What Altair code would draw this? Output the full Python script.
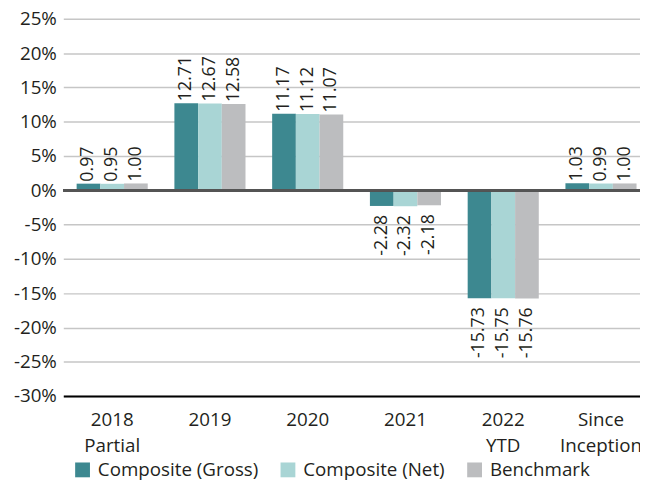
import altair as alt
import pandas as pd

categories = ["2018 Partial", "2019", "2020", "2021", "2022 YTD", "Since Inception"]
series = ["Composite (Gross)", "Composite (Net)", "Benchmark"]
gross = [0.97, 12.71, 11.17, -2.28, -15.73, 1.03]
net = [0.95, 12.67, 11.12, -2.32, -15.75, 0.99]
bench = [1.00, 12.58, 11.07, -2.18, -15.76, 1.00]
y_ticks = [-30, -25, -20, -15, -10, -5, 0, 5, 10, 15, 20, 25]
colors = ["#3d8890", "#a9d5d5", "#bcbdbf"]

rows = []
for i, c in enumerate(categories):
    for s, vals in zip(series, [gross, net, bench]):
        rows.append({"category": c, "series": s, "value": vals[i]})
df = pd.DataFrame(rows)

FONT = "Open Sans"
TXT = "#231f20"

x = alt.X(
    "category:N",
    sort=categories,
    scale=alt.Scale(range=[0, 594], paddingInner=0.2727, paddingOuter=0.1364),
    axis=alt.Axis(
        title=None, labelAngle=0, labelExpr="split(datum.label, ' ')",
        ticks=False, domain=True, domainColor="#000000", domainWidth=2,
        labelFontSize=19, labelFont=FONT, labelColor=TXT, labelPadding=15,
        labelLineHeight=26, grid=False, labelOverlap=False,
    ),
)
y_scale = alt.Scale(domain=[-30, 25], nice=False)
y_axis = alt.Axis(
    title=None, values=y_ticks, tickCount=len(y_ticks) + 2,
    labelExpr="datum.value + '%'",
    grid=True, gridColor="#c6c6c6", gridWidth=1.5, domain=False,
    ticks=False, labelPadding=7, labelFontSize=19, labelFont=FONT,
    labelColor=TXT, labelOverlap=False,
)
y = alt.Y("value:Q", scale=y_scale, axis=y_axis)
xoff = alt.XOffset("series:N", sort=series, scale=alt.Scale(paddingInner=0, paddingOuter=0))

base = alt.Chart(df)

bars = base.mark_bar().encode(
    x=x, y=y, xOffset=xoff,
    color=alt.Color(
        "series:N", sort=series,
        scale=alt.Scale(domain=series, range=colors),
        legend=alt.Legend(
            orient="none", legendX=10, legendY=447, direction="horizontal",
            title=None, symbolType="square", symbolSize=225,
            symbolStrokeWidth=0, symbolOpacity=1, labelFontSize=19,
            labelFont=FONT, labelColor=TXT, columnPadding=20, labelOffset=6,
            labelLimit=400,
        ),
    ),
)

zero = base.mark_rule(color="#555555", strokeWidth=2).encode(
    y=alt.Y(datum=0, type="quantitative", scale=y_scale, axis=y_axis)
)

labelled = base.transform_calculate(
    label="replace(format(datum.value, '.2f'), '\u2212', '-')"
)

pos = labelled.transform_filter("datum.value >= 0").mark_text(
    angle=270, align="left", baseline="middle", dx=2, fontSize=18,
    font=FONT, color=TXT,
).encode(x=x, y=y, xOffset=xoff, text="label:N")

neg = labelled.transform_filter("datum.value < 0").mark_text(
    angle=270, align="right", baseline="middle", dx=-9, fontSize=18,
    font=FONT, color=TXT,
).encode(x=x, y=y, xOffset=xoff, text="label:N")

chart = alt.layer(bars, zero, pos, neg).properties(
    width=584, height=382,
    autosize=alt.AutoSizeParams(type="none"),
    padding={"left": 56, "top": 8, "right": 0, "bottom": 82},
).configure_view(stroke=None)

chart.save("out.html", embed_options={"renderer": "svg", "actions": False})
